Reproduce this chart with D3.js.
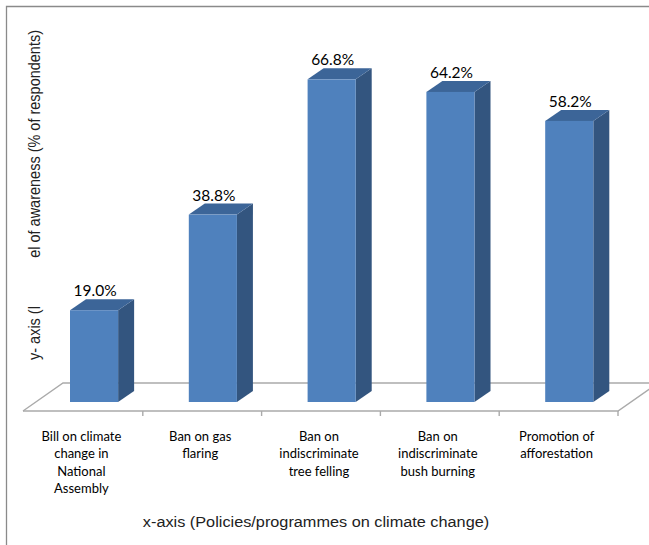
<!DOCTYPE html>
<html>
<head>
<meta charset="utf-8">
<script src="https://cdn.jsdelivr.net/npm/d3@7"></script>
<style>
  html, body { margin: 0; padding: 0; background: #fff; }
  svg { display: block; }
</style>
</head>
<body>
<svg id="chart" width="649" height="545"></svg>
<script>
// Awareness of climate-change policies/programmes (% of respondents)
const categories = [
  ["Bill on climate", "change in", "National", "Assembly"],
  ["Ban on gas", "flaring"],
  ["Ban on", "indiscriminate", "tree felling"],
  ["Ban on", "indiscriminate", "bush burning"],
  ["Promotion of", "afforestation"]
];
const values = [19.0, 38.8, 66.8, 64.2, 58.2];
const valueLabels = ["19.0%", "38.8%", "66.8%", "64.2%", "58.2%"];
const xTitle = "x-axis (Policies/programmes on climate change)";
const yTitleParts = ["y- axis (l", "el of awareness (% of respondents)"];

const svg = d3.select("#chart");
const W = 649, H = 545;

// Frame around the chart area (top and left edges)
svg.append("path")
  .attr("d", `M6.5,${H} L6.5,6.5 L${W},6.5`)
  .attr("fill", "none").attr("stroke", "#8a8a8a").attr("stroke-width", 1.3);

// Floor geometry (oblique projection)
const floorFrontY = 411;
const floorDx = 40, floorDy = -28;   // floor depth
const barDx = 16, barDy = -11;       // bar depth
const barShiftX = 13, barShiftY = -9; // bar front plane behind the floor front edge

const idx = d3.range(values.length);
const x = d3.scaleBand().domain(idx).range([24, 618]).padding(0);
const barBase = floorFrontY + barShiftY;
const y = d3.scaleLinear().domain([0, 70]).range([barBase, barBase - 70 * 4.83]);

// Floor
const fx0 = x.range()[0] - 1, fx1 = x.range()[1];
const floor = svg.append("g").attr("fill", "none").attr("stroke", "#aaaaaa").attr("stroke-width", 1.4);
floor.append("path").attr("d",
  `M${fx0},${floorFrontY} L${fx0 + floorDx},${floorFrontY + floorDy} L${fx1 + floorDx},${floorFrontY + floorDy}`);
floor.append("path").attr("d",
  `M${fx0},${floorFrontY} L${fx1},${floorFrontY} L${fx1 + floorDx},${floorFrontY + floorDy}`);

// Category tick marks along the floor front edge
svg.append("g").selectAll("line")
  .data(idx.map(i => x(i) + x.bandwidth()))
  .join("line")
  .attr("x1", d => d).attr("x2", d => d)
  .attr("y1", floorFrontY).attr("y2", floorFrontY + 5)
  .attr("stroke", "#aaaaaa").attr("stroke-width", 1.4);

// 3D bars
const barW = x.bandwidth() * 0.405;
const barOffset = 46 - barShiftX;
const bars = svg.append("g").selectAll("g.bar")
  .data(idx)
  .join("g").attr("class", "bar");

bars.each(function(i) {
  const g = d3.select(this);
  const x0 = x(i) + barShiftX + barOffset;
  const x1 = x0 + barW;
  const yt = y(values[i]);
  const yb = y(0);
  // side face
  g.append("path")
    .attr("d", `M${x1},${yb} L${x1},${yt} L${x1 + barDx},${yt + barDy} L${x1 + barDx},${yb + barDy} Z`)
    .attr("fill", "#33557f");
  // top face
  g.append("path")
    .attr("d", `M${x0},${yt} L${x0 + barDx},${yt + barDy} L${x1 + barDx},${yt + barDy} L${x1},${yt} Z`)
    .attr("fill", "#3c6598");
  // front face
  g.append("rect")
    .attr("x", x0).attr("y", yt).attr("width", barW).attr("height", yb - yt)
    .attr("fill", "#4f81bd");
  // value label
  g.append("text")
    .attr("x", x0 + barW / 2 + 1)
    .attr("y", yt + barDy - 3)
    .attr("text-anchor", "middle")
    .attr("font-family", "Lato, 'Liberation Sans', sans-serif")
    .attr("font-size", 15.5)
    .attr("fill", "#000")
    .text(valueLabels[i]);
});

// Category labels
const catG = svg.append("g")
  .attr("font-family", "Lato, 'Liberation Sans', sans-serif")
  .attr("font-size", 13)
  .attr("fill", "#000")
  .attr("text-anchor", "middle");
categories.forEach((lines, i) => {
  const t = catG.append("text")
    .attr("x", x(i) + x.bandwidth() / 2 - 2)
    .attr("y", 441);
  lines.forEach((ln, k) => {
    t.append("tspan").attr("x", x(i) + x.bandwidth() / 2 - 2)
      .attr("dy", k === 0 ? 0 : 17.3).text(ln);
  });
});

// Axis titles
svg.append("text")
  .attr("transform", "translate(316,527) scale(1.1,1)")
  .attr("text-anchor", "middle")
  .attr("font-family", "'Liberation Sans', Arial, sans-serif")
  .attr("font-size", 14.8)
  .attr("fill", "#222")
  .text(xTitle);

const yT = svg.append("g")
  .attr("font-family", "'Liberation Sans', Arial, sans-serif")
  .attr("font-size", 14.5)
  .attr("fill", "#222");
yT.append("text")
  .attr("transform", "translate(40,360) scale(1.12,1) rotate(-90)")
  .attr("text-anchor", "start")
  .text(yTitleParts[0]);
yT.append("text")
  .attr("transform", "translate(40,30) scale(1.12,1) rotate(-90)")
  .attr("text-anchor", "end")
  .text(yTitleParts[1]);
</script>
</body>
</html>
